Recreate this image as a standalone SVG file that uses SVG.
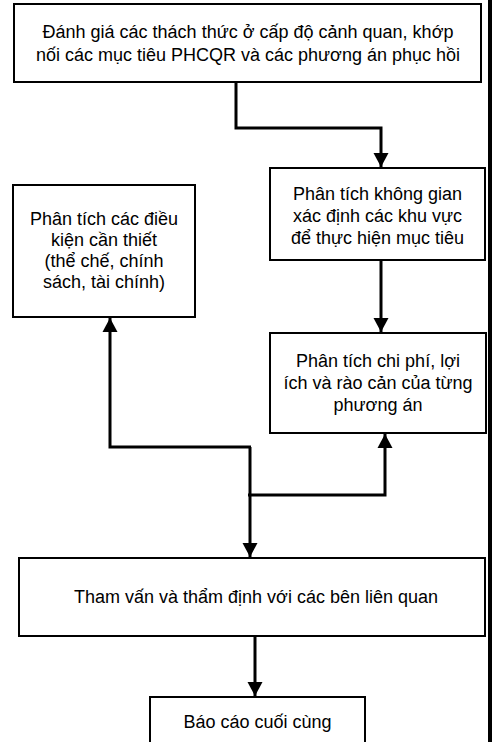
<svg xmlns="http://www.w3.org/2000/svg" width="492" height="742" viewBox="0 0 492 742">
<defs>
<marker id="arr" markerUnits="userSpaceOnUse" markerWidth="16" markerHeight="16" viewBox="0 0 16 16" refX="15" refY="8" orient="auto">
<path d="M1,0.5 L15,8 L1,15.5 Z" fill="#000"/>
</marker>
<style>
.box{fill:#fff;stroke:#000;stroke-width:2}
.t{font-family:"Liberation Sans",Arial,sans-serif;font-size:18px;fill:#000;text-anchor:middle}
.c{fill:none;stroke:#000;stroke-width:3}
</style>
</defs>
<rect width="492" height="742" fill="#fff"/>
<rect x="488" y="0" width="4" height="742" fill="#000"/>
<g id="connectors">
<path class="c" d="M236,82 V128 H381 V167" marker-end="url(#arr)"/>
<path class="c" d="M381,260 V332" marker-end="url(#arr)"/>
<path class="c" d="M250,447 V557" marker-end="url(#arr)"/>
<path class="c" d="M251,447 H110 V318" marker-end="url(#arr)"/>
<path class="c" d="M248,495 H385 V434" marker-end="url(#arr)"/>
<path class="c" d="M255,636 V696" marker-end="url(#arr)"/>
</g>
<g id="n1">
<rect class="box" x="14" y="4" width="467" height="78"/>
<text class="t" x="248" y="38">Đánh giá các thách thức ở cấp độ cảnh quan, khớp</text>
<text class="t" x="248" y="61">nối các mục tiêu PHCQR và các phương án phục hồi</text>
</g>
<g id="n2">
<rect class="box" x="270" y="168" width="215" height="92"/>
<text class="t" x="377.5" y="200">Phân tích không gian</text>
<text class="t" x="377.5" y="222">xác định các khu vực</text>
<text class="t" x="377.5" y="244">để thực hiện mục tiêu</text>
</g>
<g id="n3">
<rect class="box" x="13" y="185" width="182" height="132"/>
<text class="t" x="104" y="225">Phân tích các điều</text>
<text class="t" x="104" y="246">kiện cần thiết</text>
<text class="t" x="104" y="267">(thể chế, chính</text>
<text class="t" x="104" y="288">sách, tài chính)</text>
</g>
<g id="n4">
<rect class="box" x="270" y="333" width="216" height="100"/>
<text class="t" x="378" y="367">Phân tích chi phí, lợi</text>
<text class="t" x="378" y="389">ích và rào cản của từng</text>
<text class="t" x="378" y="411">phương án</text>
</g>
<g id="n5">
<rect class="box" x="19" y="558" width="466" height="78"/>
<text class="t" x="256" y="603">Tham vấn và thẩm định với các bên liên quan</text>
</g>
<g id="n6">
<rect class="box" x="150" y="697" width="215" height="60"/>
<text class="t" x="257.5" y="728">Báo cáo cuối cùng</text>
</g>
</svg>
